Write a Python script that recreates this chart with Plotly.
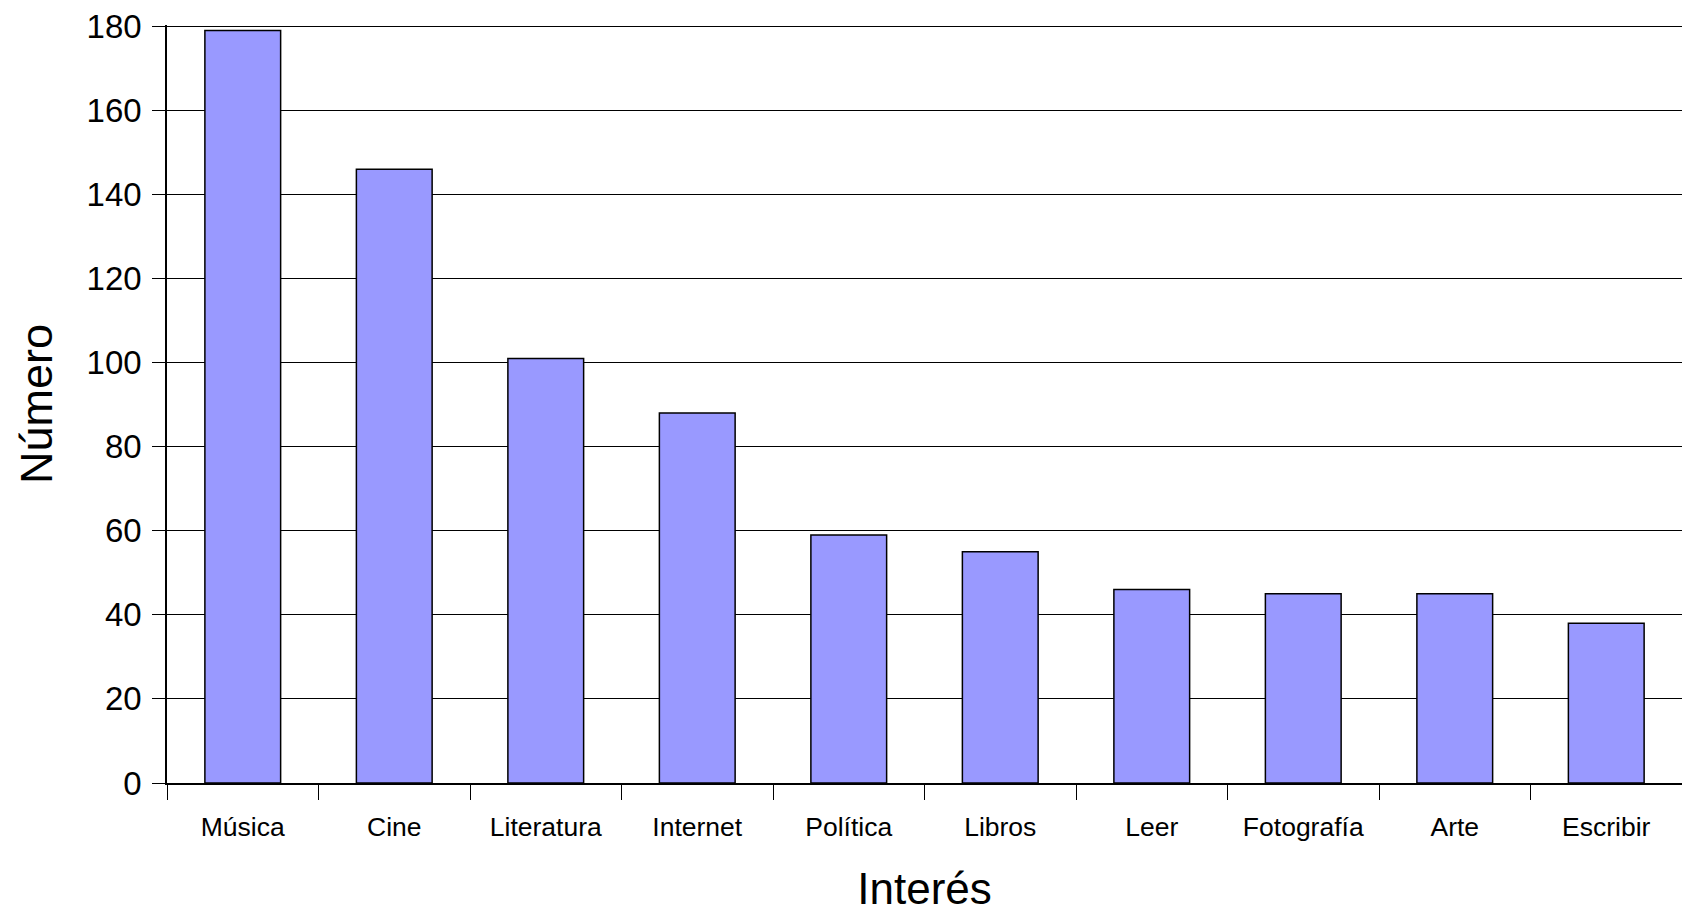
import plotly.graph_objects as go

categories = ["Música", "Cine", "Literatura", "Internet", "Política", "Libros",
              "Leer", "Fotografía", "Arte", "Escribir"]
values = [179, 146, 101, 88, 59, 55, 46, 45, 45, 38]
y_ticks = [0, 20, 40, 60, 80, 100, 120, 140, 160, 180]

FONT = "Liberation Sans, Arial, sans-serif"

fig = go.Figure(go.Bar(
    x=categories, y=values,
    marker=dict(color="#9999FF", line=dict(color="black", width=1.5)),
))

fig.update_layout(
    width=1682, height=913,
    margin=dict(l=167, r=0, t=25, b=130),
    paper_bgcolor="white", plot_bgcolor="white",
    bargap=0.5, showlegend=False,
    font=dict(family=FONT, color="black"),
)
fig.update_xaxes(
    title=dict(text="Interés", font=dict(size=44, family=FONT), standoff=36),
    tickfont=dict(size=26.5, family=FONT),
    ticks="outside", tickson="boundaries", ticklen=15, tickcolor="black", tickwidth=1,
    ticklabelstandoff=19,
    showline=True, linecolor="black", linewidth=1.5,
    showgrid=False, automargin=False,
)
fig.update_yaxes(
    title=dict(text="Número", font=dict(size=45, family=FONT), standoff=20),
    tickfont=dict(size=33, family=FONT),
    range=[0, 180.3], tickvals=y_ticks,
    ticks="outside", ticklen=13, tickcolor="black", tickwidth=1,
    ticklabelstandoff=4, ticklabeloverflow="allow",
    showline=True, linecolor="black", linewidth=1.5,
    showgrid=True, gridcolor="black", gridwidth=1,
    zeroline=False, automargin=False,
)

fig.write_html(
    "out.html",
    config={"displayModeBar": False},
    post_script="document.body.style.margin='0';document.body.style.overflow='hidden';",
)
